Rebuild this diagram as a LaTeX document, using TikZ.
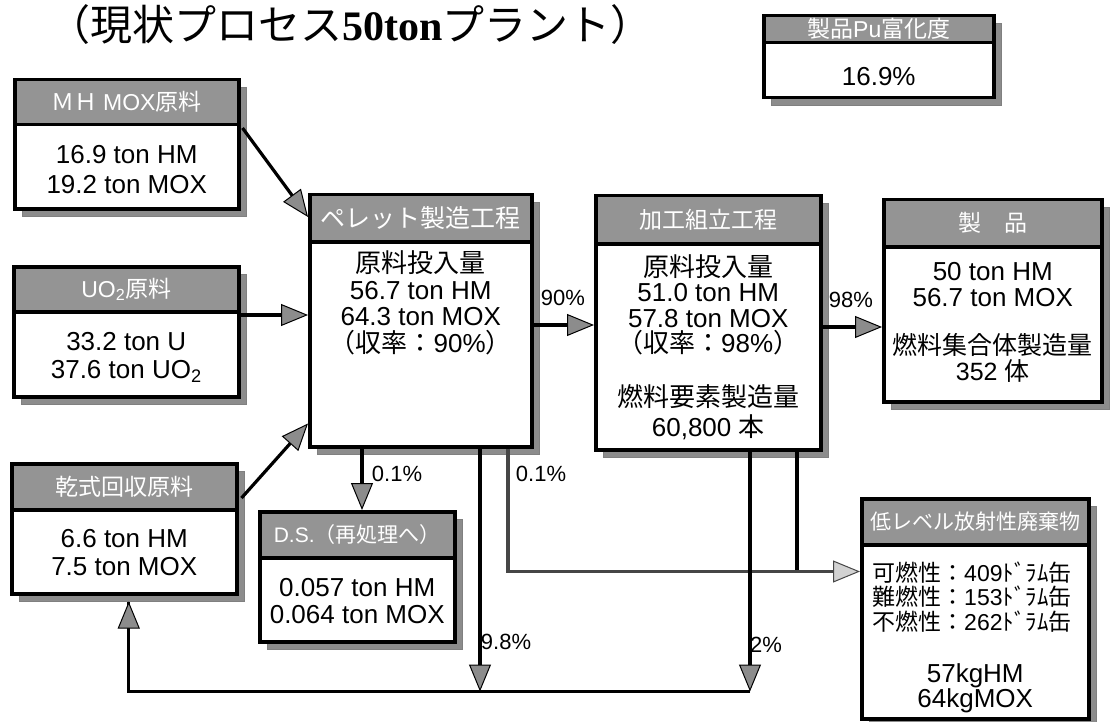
\documentclass[tikz,border=0pt]{standalone}
\usepackage{fontspec}
\setmainfont{Liberation Sans}
\newfontfamily\cjk{Noto Sans CJK JP}
\newfontfamily\tser{Liberation Serif}
\usetikzlibrary{arrows.meta,calc}
\tikzset{
 shadowbox/.style={draw=black!50, fill=black!45, line width=0.5pt, inner sep=0pt, anchor=north west},
 boxbody/.style={draw=black, line width=3.5pt, fill=white, inner sep=0pt, anchor=north west},
 hdr/.style={draw=black, line width=3.5pt, fill=black!42, inner sep=0pt, anchor=north west,
   text=white, font=\cjk\fontsize{23}{25}\selectfont},
 bodytxt/.style={align=center, inner sep=0pt, font=\fontsize{26}{30}\selectfont},
 flow/.style={line width=3.2pt, draw=black},
 flowgray/.style={line width=3.2pt, draw=gray!55!black},
 tipA/.style={-{Triangle[length=27pt,width=22pt,fill=black!45,line width=1pt]}},
 tipB/.style={-{Triangle[length=27pt,width=22pt,fill=gray!35,line width=1pt]}},
 lbl/.style={inner sep=0pt, font=\fontsize{22}{24}\selectfont},
}
\begin{document}
\begin{tikzpicture}[x=1pt,y=-1pt]
\fill[white] (0,0) rectangle (1113,722);
\useasboundingbox (0,0) rectangle (1113,722);

% title
\node[anchor=west, inner sep=0pt] (title) at (48,25)
 {{\cjk\fontsize{42}{42}\selectfont （現状プロセス}{\tser\bfseries\fontsize{42}{42}\selectfont 50ton}{\cjk\fontsize{42}{42}\selectfont プラント）}};

% shadows
\node[shadowbox, minimum width=230pt, minimum height=82pt] (pus) at (771,23) {};
\node[shadowbox, minimum width=224pt, minimum height=129pt] (moxs) at (22,87) {};
\node[shadowbox, minimum width=225pt, minimum height=130pt] (uo2s) at (21,274) {};
\node[shadowbox, minimum width=225pt, minimum height=130pt] (kans) at (19,471) {};
\node[shadowbox, minimum width=222pt, minimum height=252pt] (pels) at (317,202) {};
\node[shadowbox, minimum width=225pt, minimum height=254pt] (kaks) at (603,203) {};
\node[shadowbox, minimum width=218pt, minimum height=202pt] (seis) at (891,207) {};
\node[shadowbox, minimum width=195pt, minimum height=130pt] (dss) at (267,519) {};
\node[shadowbox, minimum width=227pt, minimum height=220pt] (lows) at (869,506) {};

% Pu enrichment box
\node[boxbody, minimum width=230pt, minimum height=82pt] (pu) at (762,14) {};
\node[hdr, minimum width=230pt, minimum height=27pt] (puh) at (pu.north west) {製品{\fontspec{Liberation Sans}Pu}富化度};
\node[bodytxt] (put) at ($(pu.north)+(0,63)$) {16.9\%};

% MH MOX raw material
\node[boxbody, minimum width=224pt, minimum height=129pt] (mox) at (13,78) {};
\node[hdr, minimum width=224pt, minimum height=45pt] (moxh) at (mox.north west) {ＭＨ {\fontspec{Liberation Sans}MOX}原料};
\node[bodytxt] (moxt) at ($(mox.north)+(0,92)$) {16.9 ton HM\\19.2 ton MOX};

% UO2 raw material
\node[boxbody, minimum width=225pt, minimum height=130pt] (uo2) at (12,265) {};
\node[hdr, minimum width=225pt, minimum height=45pt] (uo2h) at (uo2.north west) {{\fontspec{Liberation Sans}UO\textsubscript{2}}原料};
\node[bodytxt, font=\fontsize{26}{28}\selectfont] (uo2t) at ($(uo2.north)+(0,92)$) {33.2 ton U\\37.6 ton UO\textsubscript{2}};

% dry recovered material
\node[boxbody, minimum width=225pt, minimum height=130pt] (kan) at (10,462) {};
\node[hdr, minimum width=225pt, minimum height=46pt] (kanh) at (kan.north west) {乾式回収原料};
\node[bodytxt, font=\fontsize{26}{28}\selectfont] (kant) at ($(kan.north)+(0,91)$) {6.6 ton HM\\7.5 ton MOX};

% pellet process
\node[boxbody, minimum width=222pt, minimum height=252pt] (pel) at (308,193) {};
\node[hdr, minimum width=222pt, minimum height=47pt, font=\cjk\fontsize{25}{27}\selectfont] (pelh) at (pel.north west) {ペレット製造工程};
\node[bodytxt, font=\fontsize{26}{26.5}\selectfont] (pelt) at ($(pel.north)+(0,110)$)
 {{\cjk 原料投入量}\\56.7 ton HM\\64.3 ton MOX\\{\cjk （収率：}90\%{\cjk ）}};

% fabrication / assembly
\node[boxbody, minimum width=225pt, minimum height=254pt] (kak) at (594,194) {};
\node[hdr, minimum width=225pt, minimum height=48pt] (kakh) at (kak.north west) {加工組立工程};
\node[bodytxt, font=\fontsize{26}{25.5}\selectfont] (kakt) at ($(kak.north)+(0,111)$)
 {{\cjk 原料投入量}\\51.0 ton HM\\57.8 ton MOX\\{\cjk （収率：}98\%{\cjk ）}};
\node[bodytxt] (kakt2) at ($(kak.north)+(0,218)$) {{\cjk 燃料要素製造量}\\60,800 {\cjk 本}};

% product
\node[boxbody, minimum width=218pt, minimum height=202pt] (sei) at (882,198) {};
\node[hdr, minimum width=218pt, minimum height=47pt] (seih) at (sei.north west) {製\quad 品};
\node[bodytxt, font=\fontsize{26}{26}\selectfont] (seit) at ($(sei.north)+(0,87)$) {50 ton HM\\56.7 ton MOX};
\node[bodytxt, font=\fontsize{25}{26}\selectfont] (seit2) at ($(sei.north)+(0,160)$) {{\cjk 燃料集合体製造量}\\352 {\cjk 体}};

% D.S.
\node[boxbody, minimum width=195pt, minimum height=130pt] (ds) at (258,510) {};
\node[hdr, minimum width=195pt, minimum height=46pt, font=\cjk\fontsize{21}{23}\selectfont] (dsh) at (ds.north west) {{\fontspec{Liberation Sans}D.S.}（再処理へ）};
\node[bodytxt, font=\fontsize{26}{27}\selectfont] (dst) at ($(ds.north)+(0,91)$) {0.057 ton HM\\0.064 ton MOX};

% low-level waste
\node[boxbody, minimum width=227pt, minimum height=220pt] (low) at (860,497) {};
\node[hdr, minimum width=227pt, minimum height=46pt, font=\cjk\fontsize{21}{23}\selectfont] (lowh) at (low.north west) {低レベル放射性廃棄物};
\node[align=left, inner sep=0pt, anchor=west, font=\fontsize{23}{24.5}\selectfont] (lowt) at ($(low.north west)+(12,100)$)
 {{\cjk 可燃性：}409{\cjk ﾄﾞﾗﾑ缶}\\{\cjk 難燃性：}153{\cjk ﾄﾞﾗﾑ缶}\\{\cjk 不燃性：}262{\cjk ﾄﾞﾗﾑ缶}};
\node[bodytxt, font=\fontsize{26}{24}\selectfont] (lowt2) at ($(low.north)+(0,191)$) {57kgHM\\64kgMOX};

% connectors
\coordinate (moxR) at ($(mox.north east)+(2,50)$);
\coordinate (pelL1) at ($(pel.north west)+(0,24)$);
\draw[flow,tipA] (moxR) -- (pelL1);

\coordinate (uoR) at ($(uo2.north east)+(0,50)$);
\draw[flow,tipA] (uoR) -- (uoR -| pel.west);

\coordinate (kanR) at ($(kan.north east)+(3,36)$);
\coordinate (pelL3) at ($(pel.south west)+(0,-25)$);
\draw[flow,tipA] (kanR) -- (pelL3);

\coordinate (pelR) at ($(pel.north east)+(0,132)$);
\draw[flow,tipA] (pelR) -- (pelR -| kak.west);

\coordinate (kakR) at ($(kak.north east)+(0,133)$);
\draw[flow,tipA] (kakR) -- (kakR -| sei.west);

\coordinate (pelD1) at ($(pel.south west)+(54,0)$);
\draw[flow,tipA] (pelD1) -- (pelD1 |- ds.north);

\coordinate (pelD3) at ($(pel.south west)+(200,0)$);
\coordinate (mid) at ($(pelD3)+(0,123)$);
\coordinate (kakD2) at ($(kak.south west)+(203,0)$);
\draw[flow] (kakD2) -- (kakD2 |- mid);
\draw[flowgray,tipB] (pelD3) -- (mid) -- (mid -| low.west);

\coordinate (pelD2) at ($(pel.south west)+(172,0)$);
\coordinate (bot) at ($(pelD2)+(0,243)$);
\coordinate (kakD1) at ($(kak.south west)+(156,0)$);
\coordinate (botR) at (kakD1 |- bot);
\coordinate (kanin) at ($(kans.south)+(-3,0)$);
\draw[flow] (botR) -- (botR -| kanin) -- (kanin);
\draw[flow,tipA] (kanin |- bot) -- (kanin);
\draw[flow,tipA] (pelD2) -- (bot);
\draw[flow,tipA] (kakD1) -- (botR);

% labels
\node[lbl] (l90) at (563,298) {90\%};
\node[lbl] (l98) at (851,300) {98\%};
\node[lbl] (l01a) at (397,474) {0.1\%};
\node[lbl] (l01b) at (541,474) {0.1\%};
\node[lbl] (l98b) at (506,642) {9.8\%};
\node[lbl] (l2) at (766,645) {2\%};
\end{tikzpicture}
\end{document}
